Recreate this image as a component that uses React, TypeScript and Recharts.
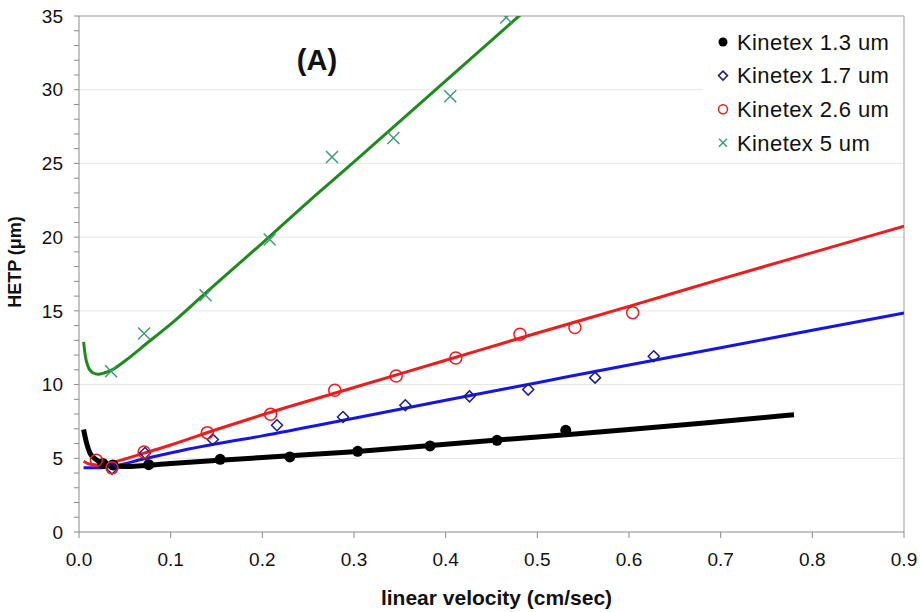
import React from 'react';
import { ComposedChart, Line, Scatter, XAxis, YAxis, ReferenceLine } from 'recharts';

// axis ticks
const xTicks = [0, 0.1, 0.2, 0.3, 0.4, 0.5, 0.6, 0.7, 0.8, 0.9];
const yTicks = Array.from({ length: 36 }, (_, i) => i); // minor every 1, labels every 5
const gridValues = [5, 10, 15, 20, 25, 30];

const seriesNames = ['Kinetex 1.3 um', 'Kinetex 1.7 um', 'Kinetex 2.6 um', 'Kinetex 5 um'];

// measured HETP points
const k13Points = [
  { x: 0.026, y: 4.65 }, { x: 0.037, y: 4.55 }, { x: 0.076, y: 4.57 }, { x: 0.154, y: 4.93 },
  { x: 0.23, y: 5.09 }, { x: 0.304, y: 5.47 }, { x: 0.383, y: 5.84 }, { x: 0.456, y: 6.22 },
  { x: 0.531, y: 6.9 },
];
const k17Points = [
  { x: 0.036, y: 4.3 }, { x: 0.072, y: 5.36 }, { x: 0.146, y: 6.27 }, { x: 0.216, y: 7.24 },
  { x: 0.288, y: 7.8 }, { x: 0.356, y: 8.6 }, { x: 0.426, y: 9.2 }, { x: 0.49, y: 9.66 },
  { x: 0.563, y: 10.47 }, { x: 0.627, y: 11.92 },
];
const k26Points = [
  { x: 0.019, y: 4.86 }, { x: 0.036, y: 4.35 }, { x: 0.071, y: 5.43 }, { x: 0.14, y: 6.74 },
  { x: 0.209, y: 7.98 }, { x: 0.279, y: 9.61 }, { x: 0.346, y: 10.58 }, { x: 0.411, y: 11.8 },
  { x: 0.481, y: 13.41 }, { x: 0.541, y: 13.87 }, { x: 0.604, y: 14.88 },
];
const k5Points = [
  { x: 0.035, y: 10.9 }, { x: 0.071, y: 13.46 }, { x: 0.138, y: 16.06 }, { x: 0.208, y: 19.84 },
  { x: 0.276, y: 25.44 }, { x: 0.343, y: 26.73 }, { x: 0.405, y: 29.56 }, { x: 0.466, y: 34.9 },
];

// fitted curves
const k13Fit = [
  { x: 0.005, y: 6.95 }, { x: 0.008, y: 6.1 }, { x: 0.012, y: 5.35 }, { x: 0.018, y: 4.95 },
  { x: 0.025, y: 4.68 }, { x: 0.035, y: 4.5 }, { x: 0.05, y: 4.45 }, { x: 0.1, y: 4.65 },
  { x: 0.2, y: 5.05 }, { x: 0.3, y: 5.45 }, { x: 0.4, y: 5.95 }, { x: 0.5, y: 6.45 },
  { x: 0.6, y: 6.95 }, { x: 0.7, y: 7.5 }, { x: 0.78, y: 7.95 },
];
const k17Fit = [
  { x: 0.005, y: 4.35 }, { x: 0.02, y: 4.35 }, { x: 0.04, y: 4.5 }, { x: 0.07, y: 4.95 },
  { x: 0.11, y: 5.5 }, { x: 0.15, y: 5.98 }, { x: 0.2, y: 6.52 }, { x: 0.3, y: 7.72 },
  { x: 0.4, y: 8.93 }, { x: 0.5, y: 10.13 }, { x: 0.6, y: 11.33 }, { x: 0.7, y: 12.5 },
  { x: 0.8, y: 13.68 }, { x: 0.9, y: 14.85 },
];
const k26Fit = [
  { x: 0.005, y: 4.8 }, { x: 0.012, y: 4.6 }, { x: 0.022, y: 4.55 }, { x: 0.035, y: 4.7 },
  { x: 0.05, y: 4.95 }, { x: 0.071, y: 5.35 }, { x: 0.1, y: 5.9 }, { x: 0.15, y: 6.95 },
  { x: 0.2, y: 7.95 }, { x: 0.3, y: 9.8 }, { x: 0.4, y: 11.65 }, { x: 0.5, y: 13.5 },
  { x: 0.6, y: 15.3 }, { x: 0.7, y: 17.15 }, { x: 0.8, y: 18.95 }, { x: 0.9, y: 20.75 },
];
const k5Fit = [
  { x: 0.005, y: 12.9 }, { x: 0.007, y: 11.9 }, { x: 0.01, y: 11.2 }, { x: 0.015, y: 10.8 },
  { x: 0.021, y: 10.7 }, { x: 0.028, y: 10.8 }, { x: 0.036, y: 11.0 }, { x: 0.05, y: 11.6 },
  { x: 0.074, y: 12.8 }, { x: 0.1, y: 14.1 }, { x: 0.137, y: 16.15 }, { x: 0.2, y: 19.6 },
  { x: 0.25, y: 22.4 }, { x: 0.3, y: 25.1 }, { x: 0.35, y: 27.85 }, { x: 0.4, y: 30.6 },
  { x: 0.45, y: 33.35 }, { x: 0.5, y: 36.1 },
];

const FONT = 'Arial, "Liberation Sans", sans-serif';
const BLACK = '#000000';
const NAVY = '#1c1c8a';
const RED = '#ee1c1c';
const GREEN_LINE = '#1f8a1f';
const GREEN_MARK = '#3f9a78';

const Dot = ({ cx, cy, r = 5.5 }: any) => <circle cx={cx} cy={cy} r={r} fill={BLACK} />;
const Diamond = ({ cx, cy, s = 5.5 }: any) => (
  <path d={`M${cx},${cy - s}L${cx + s},${cy}L${cx},${cy + s}L${cx - s},${cy}Z`} fill="none" stroke={NAVY} strokeWidth={1.5} />
);
const Ring = ({ cx, cy, r = 6 }: any) => <circle cx={cx} cy={cy} r={r} fill="none" stroke={RED} strokeWidth={1.5} />;
const Cross = ({ cx, cy, s = 6 }: any) => (
  <path d={`M${cx - s},${cy - s}L${cx + s},${cy + s}M${cx - s},${cy + s}L${cx + s},${cy - s}`} stroke={GREEN_MARK} strokeWidth={1.5} />
);

const YTick = (props: any) => {
  const { x, y, payload } = props;
  if (payload.value % 5 !== 0) return <g />;
  return (
    <text x={x} y={y} dy="0.35em" textAnchor="end" fontSize={19} fontFamily={FONT} fill="#111">
      {payload.value}
    </text>
  );
};

const YTitle = () => (
  <text x={21} y={262} transform="rotate(-90 21 262)" textAnchor="middle" fontSize={18} fontWeight="bold" fontFamily={FONT} fill="#111">
    HETP (μm)
  </text>
);

const legendMarks = [
  <Dot cx={20} cy={0} r={4.5} />,
  <Diamond cx={20} cy={0} s={4.5} />,
  <Ring cx={20} cy={0} r={4.5} />,
  <Cross cx={20} cy={0} s={4} />,
];

export default function App() {
  return (
    <div style={{ position: 'absolute', left: 0, top: 0, width: 920, height: 612, background: '#fff' }}>
      <ComposedChart width={920} height={612} margin={{ top: 16, right: 16, bottom: 0, left: 0 }}>
        <XAxis
          type="number"
          dataKey="x"
          domain={[0, 0.9]}
          ticks={xTicks}
          allowDataOverflow
          height={80}
          tickSize={6}
          tickMargin={15}
          stroke="#8a8a8a"
          tick={{ fontSize: 19, fontFamily: FONT, fill: '#111' }}
          tickFormatter={(v: number) => v.toFixed(1)}
          label={{
            value: 'linear velocity (cm/sec)',
            position: 'insideBottom',
            offset: 7,
            dx: 5,
            style: { fontSize: 21, fontWeight: 'bold', fontFamily: FONT, fill: '#111' },
          }}
        />
        <YAxis
          type="number"
          dataKey="y"
          domain={[0, 35]}
          ticks={yTicks}
          allowDataOverflow
          interval={0}
          width={79}
          tickSize={5}
          tickMargin={11}
          stroke="#8a8a8a"
          tick={<YTick />}
          label={{ content: <YTitle /> }}
        />
        {gridValues.map((v) => (
          <ReferenceLine key={v} y={v} stroke="#e6e6e6" strokeWidth={1} />
        ))}
        <ReferenceLine y={35} stroke="#bdbdbd" strokeWidth={1.5} />
        <ReferenceLine x={0.9} stroke="#bdbdbd" strokeWidth={1.5} />

        <Line data={k17Fit} dataKey="y" type="monotone" stroke="#1515e6" strokeWidth={3} dot={false} isAnimationActive={false} />
        <Line data={k26Fit} dataKey="y" type="monotone" stroke={RED} strokeWidth={3} dot={false} isAnimationActive={false} />
        <Line data={k5Fit} dataKey="y" type="monotone" stroke={GREEN_LINE} strokeWidth={3} dot={false} isAnimationActive={false} />
        <Line data={k13Fit} dataKey="y" type="monotone" stroke={BLACK} strokeWidth={5} dot={false} isAnimationActive={false} />

        <Scatter name={seriesNames[0]} data={k13Points} dataKey="y" shape={<Dot />} isAnimationActive={false} />
        <Scatter name={seriesNames[1]} data={k17Points} dataKey="y" shape={<Diamond />} isAnimationActive={false} />
        <Scatter name={seriesNames[2]} data={k26Points} dataKey="y" shape={<Ring />} isAnimationActive={false} />
        <Scatter name={seriesNames[3]} data={k5Points} dataKey="y" shape={<Cross />} isAnimationActive={false} />
      </ComposedChart>

      <svg
        width={920}
        height={612}
        style={{ position: 'absolute', left: 0, top: 0, pointerEvents: 'none' }}
        fontFamily={FONT}
      >
        <text x={317} y={70} textAnchor="middle" fontSize={29} fontWeight="bold" fill="#111">
          (A)
        </text>
        <rect x={703} y={17} width={200} height={142} fill="#fff" />
        {seriesNames.map((name, i) => {
          const cy = 42 + i * 33.6;
          return (
            <g key={name} transform={`translate(703, ${cy})`}>
              {legendMarks[i]}
              <text x={34} y={0} dy="0.35em" fontSize={22} letterSpacing={0.4} fill="#111">
                {name}
              </text>
            </g>
          );
        })}
      </svg>
    </div>
  );
}
